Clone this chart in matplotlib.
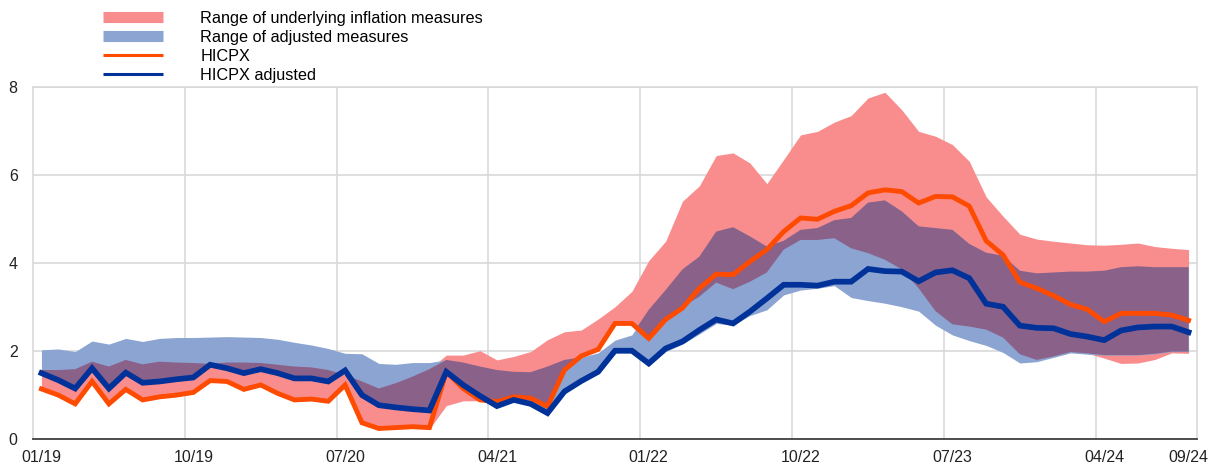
import numpy as np
import pandas as pd
import matplotlib
matplotlib.use("Agg")
import matplotlib.pyplot as plt
from matplotlib.lines import Line2D

plt.rcParams['font.family'] = ['Liberation Sans', 'DejaVu Sans']

# monthly observations, 01/19 - 09/24
months = pd.date_range('2019-01-01', '2024-09-01', freq='MS').strftime('%m/%y').tolist()
tick_labels = ['01/19', '10/19', '07/20', '04/21', '01/22', '10/22', '07/23', '04/24', '09/24']

# HICPX
hicpx = [1.13, 0.99, 0.79, 1.30, 0.79, 1.12, 0.88, 0.95, 0.99, 1.05,
         1.32, 1.30, 1.12, 1.22, 1.03, 0.88, 0.90, 0.85, 1.22, 0.36,
         0.23, 0.25, 0.27, 0.25, 1.52, 1.14, 0.88, 0.84, 0.95, 0.92,
         0.73, 1.56, 1.88, 2.03, 2.62, 2.62, 2.28, 2.71, 2.97, 3.42,
         3.74, 3.73, 4.03, 4.30, 4.71, 5.02, 4.99, 5.17, 5.30, 5.59,
         5.66, 5.62, 5.36, 5.51, 5.50, 5.29, 4.50, 4.18, 3.56, 3.42,
         3.25, 3.05, 2.94, 2.66, 2.85, 2.85, 2.85, 2.81, 2.69]

# HICPX adjusted
hicpx_adj = [1.49, 1.33, 1.14, 1.60, 1.14, 1.50, 1.27, 1.30, 1.35, 1.39,
             1.68, 1.60, 1.49, 1.58, 1.49, 1.37, 1.37, 1.30, 1.55, 0.99,
             0.76, 0.71, 0.67, 0.64, 1.52, 1.22, 0.97, 0.74, 0.88, 0.79,
             0.58, 1.07, 1.31, 1.52, 2.00, 2.00, 1.71, 2.05, 2.21, 2.47,
             2.71, 2.62, 2.89, 3.19, 3.50, 3.50, 3.48, 3.57, 3.57, 3.86,
             3.81, 3.80, 3.58, 3.78, 3.83, 3.65, 3.07, 3.00, 2.57, 2.52,
             2.51, 2.38, 2.32, 2.24, 2.46, 2.53, 2.55, 2.55, 2.42]

# range of underlying inflation measures
red_low = [1.10, 0.96, 0.76, 1.27, 0.76, 1.09, 0.85, 0.92, 0.96, 1.02,
           1.29, 1.27, 1.09, 1.19, 1.00, 0.85, 0.87, 0.82, 1.19, 0.33,
           0.20, 0.22, 0.24, 0.22, 0.75, 0.86, 0.86, 0.81, 0.92, 0.89,
           0.70, 1.53, 1.85, 2.00, 2.59, 2.59, 2.28, 2.70, 3.00, 3.23,
           3.55, 3.40, 3.57, 3.78, 4.30, 4.52, 4.52, 4.56, 4.33, 4.22,
           4.07, 3.85, 3.42, 2.90, 2.60, 2.55, 2.48, 2.30, 1.92, 1.79,
           1.87, 1.97, 1.94, 1.83, 1.71, 1.72, 1.80, 1.95, 1.94]
red_high = [1.56, 1.56, 1.58, 1.75, 1.64, 1.79, 1.69, 1.75, 1.73, 1.72,
            1.70, 1.73, 1.73, 1.72, 1.68, 1.64, 1.62, 1.56, 1.45, 1.30,
            1.14, 1.26, 1.41, 1.58, 1.90, 1.90, 2.00, 1.79, 1.87, 1.98,
            2.25, 2.43, 2.47, 2.72, 3.00, 3.35, 4.05, 4.49, 5.40, 5.75,
            6.44, 6.50, 6.27, 5.80, 6.35, 6.91, 6.99, 7.20, 7.35, 7.75,
            7.88, 7.48, 6.99, 6.88, 6.69, 6.31, 5.50, 5.06, 4.65, 4.54,
            4.49, 4.45, 4.41, 4.40, 4.42, 4.45, 4.37, 4.33, 4.30]

# range of adjusted measures
blue_low = [1.46, 1.30, 1.11, 1.57, 1.11, 1.47, 1.24, 1.27, 1.32, 1.36,
            1.65, 1.57, 1.46, 1.55, 1.46, 1.34, 1.34, 1.27, 1.52, 0.96,
            0.73, 0.68, 0.64, 0.61, 1.49, 1.19, 0.94, 0.71, 0.85, 0.76,
            0.55, 1.04, 1.28, 1.49, 1.95, 1.95, 1.65, 1.98, 2.15, 2.38,
            2.62, 2.58, 2.80, 2.93, 3.27, 3.38, 3.42, 3.48, 3.21, 3.14,
            3.08, 3.00, 2.90, 2.58, 2.36, 2.23, 2.12, 1.96, 1.72, 1.75,
            1.85, 1.95, 1.92, 1.90, 1.90, 1.90, 1.93, 1.98, 1.98]
blue_high = [2.02, 2.04, 1.98, 2.22, 2.15, 2.28, 2.21, 2.28, 2.30, 2.30,
             2.31, 2.32, 2.31, 2.30, 2.26, 2.19, 2.13, 2.05, 1.94, 1.93,
             1.71, 1.69, 1.73, 1.73, 1.79, 1.73, 1.64, 1.56, 1.52, 1.51,
             1.64, 1.79, 1.85, 1.95, 2.24, 2.36, 2.93, 3.38, 3.85, 4.14,
             4.71, 4.81, 4.60, 4.37, 4.50, 4.75, 4.79, 4.97, 5.02, 5.37,
             5.42, 5.17, 4.83, 4.79, 4.75, 4.43, 4.23, 4.16, 3.82, 3.76,
             3.78, 3.80, 3.80, 3.82, 3.90, 3.92, 3.90, 3.90, 3.90]

red_col = '#F98C8C'
blue_col = '#8CA4D1'
overlap_col = '#8A6189'
hicpx_col = '#FF4B00'
adj_col = '#003299'

x = np.arange(len(months))
rl, rh = np.array(red_low), np.array(red_high)
bl, bh = np.array(blue_low), np.array(blue_high)
ov_low = np.maximum(rl, bl)
ov_high = np.minimum(rh, bh)

fig = plt.figure(figsize=(12.18, 4.65), dpi=100)
ax = fig.add_axes([33 / 1218, 26.4 / 465, 1164 / 1218, 351.6 / 465])

ax.fill_between(x, rl, rh, color=red_col, linewidth=0, zorder=2)
ax.fill_between(x, bl, bh, color=blue_col, linewidth=0, zorder=2)
ax.fill_between(x, ov_low, ov_high, where=ov_high > ov_low, interpolate=True,
                color=overlap_col, linewidth=0, zorder=3)
ax.plot(x, hicpx, color=hicpx_col, lw=3.5, zorder=4, solid_joinstyle='miter')
ax.plot(x, hicpx_adj, color=adj_col, lw=4.1, zorder=5, solid_joinstyle='miter')

# axes
ax.set_xlim(-0.5, len(months) - 0.5)
ax.set_ylim(0, 8)
ax.set_yticks([0, 2, 4, 6, 8])
tick_pos = [months.index(t) for t in tick_labels]
ax.set_xticks(tick_pos)
ax.set_xticklabels(tick_labels)
ax.set_xticks([p - 0.5 for p in tick_pos[1:-1]], minor=True)
ax.tick_params(axis='both', which='both', length=0, labelsize=11.5, colors='#222222')
ax.tick_params(axis='y', pad=11)
ax.tick_params(axis='x', pad=8)
ax.grid(axis='y', which='major', color='#D9D9D9', lw=1.2, zorder=0)
ax.grid(axis='x', which='minor', color='#D9D9D9', lw=1.2, zorder=0)
ax.set_axisbelow(True)
for side in ['left', 'top', 'right']:
    ax.spines[side].set_color('#D9D9D9')
    ax.spines[side].set_linewidth(1.2)
ax.spines['bottom'].set_color('#404040')
ax.spines['bottom'].set_linewidth(1.3)

handles = [
    Line2D([], [], color=red_col, lw=8, solid_capstyle='butt'),
    Line2D([], [], color=blue_col, lw=8, solid_capstyle='butt'),
    Line2D([], [], color=hicpx_col, lw=2.2, solid_capstyle='butt'),
    Line2D([], [], color=adj_col, lw=2.2, solid_capstyle='butt'),
]
labels = ['Range of underlying inflation measures', 'Range of adjusted measures',
          'HICPX', 'HICPX adjusted']
fig.legend(handles, labels, loc='upper left', bbox_to_anchor=(103 / 1218, 1 - 11 / 465),
           frameon=False, fontsize=11.7, handlelength=3.7, handletextpad=2.3,
           labelspacing=0.24, borderpad=0, borderaxespad=0)

plt.savefig('out.png', dpi=100)
plt.close()
